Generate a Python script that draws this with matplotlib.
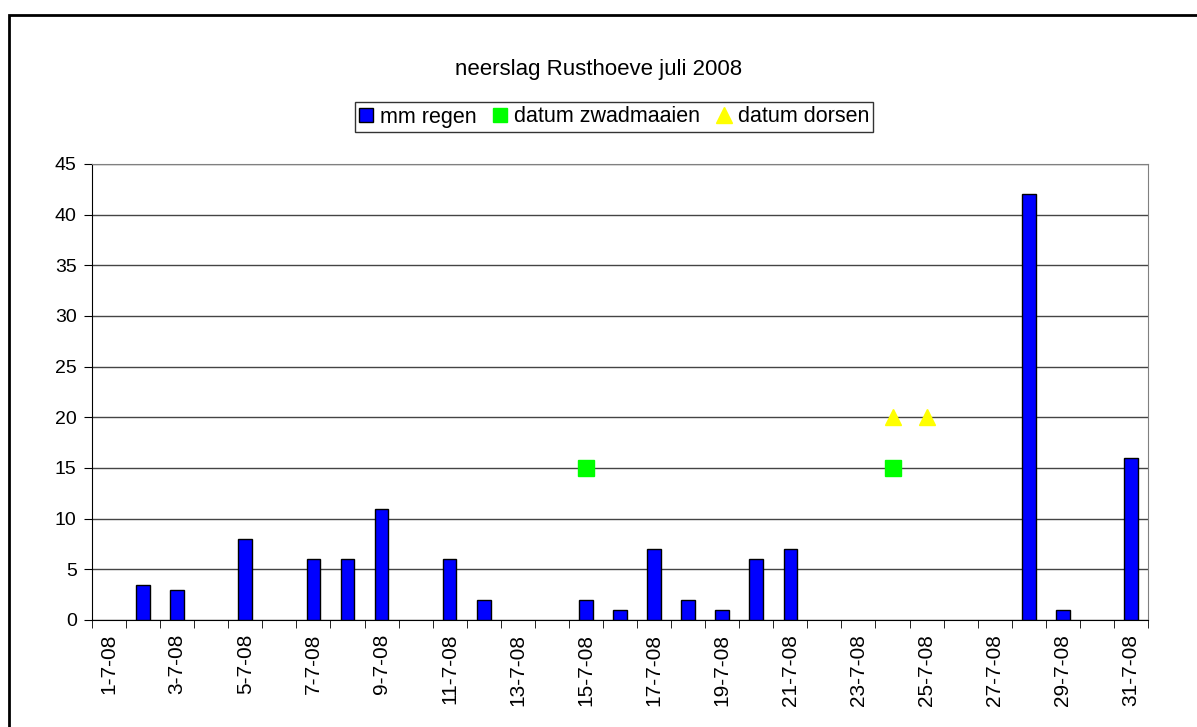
import matplotlib.pyplot as plt
from matplotlib.lines import Line2D
from matplotlib.patches import Rectangle

plt.rcParams['font.family'] = ['Liberation Sans', 'DejaVu Sans']

days = list(range(1, 32))
labels = [f"{d}-7-08" for d in days]
regen = [0, 3.5, 3, 0, 8, 0, 6, 6, 11, 0, 6, 2, 0, 0, 2, 1, 7, 2, 1, 6, 7,
         0, 0, 0, 0, 0, 0, 42, 1, 0, 16]
zwad_days = [15, 24]
zwad_vals = [15, 15]
dorsen_days = [24, 25]
dorsen_vals = [20, 20]

fig = plt.figure(figsize=(11.97, 7.27), dpi=100)
ax = fig.add_axes([92 / 1197, 1 - 620 / 727, (1148 - 92) / 1197, (620 - 164) / 727])

x = [d - 1 for d in days]
# dagen zonder regen niet tekenen (anders zie je een streepje op de as)
bx = [xi for xi, v in zip(x, regen) if v > 0]
bv = [v for v in regen if v > 0]
ax.bar(bx, bv, width=0.4, color='#0000ff', edgecolor='black', linewidth=1, zorder=3)
ax.plot([d - 1 for d in zwad_days], zwad_vals, 's', color='#00ff00', markersize=11, zorder=4)
ax.plot([d - 1 for d in dorsen_days], dorsen_vals, '^', color='#ffff00', markersize=12, zorder=4)

ax.set_xlim(-0.5, 30.5)
ax.set_ylim(0, 45)
ax.set_yticks(range(0, 46, 5))
ax.yaxis.grid(True, color='#444444', linewidth=1)
ax.set_axisbelow(True)

ax.set_xticks(x[::2])
ax.set_xticklabels(labels[::2], rotation=90)
ax.set_xticks([i - 0.5 for i in range(32)], minor=True)
ax.tick_params(axis='x', which='major', length=0, pad=10, labelsize=15)
ax.tick_params(axis='x', which='minor', length=6, direction='out', color='black')
ax.tick_params(axis='y', length=6, labelsize=14, color='black', pad=5)

for side in ['top', 'right']:
    ax.spines[side].set_color('#808080')
for side in ['left', 'bottom']:
    ax.spines[side].set_color('black')

fig.text(0.5, 1 - 70 / 727, 'neerslag Rusthoeve juli 2008', ha='center', va='center', fontsize=16)

handles = [
    Line2D([], [], marker='s', linestyle='none', markerfacecolor='#0000ff', markeredgecolor='black', markersize=10),
    Line2D([], [], marker='s', linestyle='none', color='#00ff00', markersize=10),
    Line2D([], [], marker='^', linestyle='none', color='#ffff00', markersize=11),
]
fig.legend(handles, ['mm regen', 'datum zwadmaaien', 'datum dorsen'], loc='center',
           bbox_to_anchor=(614 / 1197, 1 - 117 / 727), ncol=3, fontsize=15.5,
           frameon=True, fancybox=False, edgecolor='black', handlelength=0.6,
           handletextpad=0.35, columnspacing=0.8, borderpad=0.2, borderaxespad=0)

fig.patches.append(Rectangle((9 / 1197, -0.1), 1.2, 1 - 15 / 727 + 0.1,
                             transform=fig.transFigure, fill=False,
                             edgecolor='black', linewidth=2))

fig.savefig('out.png', dpi=100)
